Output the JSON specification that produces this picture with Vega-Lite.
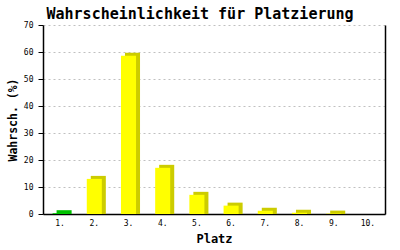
{
  "$schema": "https://vega.github.io/schema/vega-lite/v6.json",
  "width": 342,
  "height": 189,
  "autosize": "none",
  "padding": {"left": 43, "top": 25, "right": 15, "bottom": 36},
  "background": "white",
  "config": {
    "view": {"stroke": null},
    "axis": {
      "domainColor": "black",
      "tickColor": "black",
      "labelFont": "DejaVu Sans Mono",
      "labelFontSize": 8,
      "labelColor": "black",
      "titleFont": "DejaVu Sans Mono",
      "titleFontWeight": "bold",
      "titleColor": "black"
    }
  },
  "title": {
    "text": "Wahrscheinlichkeit für Platzierung",
    "font": "DejaVu Sans Mono",
    "fontSize": 15,
    "fontWeight": "bold",
    "color": "black",
    "anchor": "middle",
    "dx": -14,
    "offset": -1
  },
  "data": {
    "values": [
      {"platz": "1.", "wert": 0.3},
      {"platz": "2.", "wert": 13.0},
      {"platz": "3.", "wert": 58.6},
      {"platz": "4.", "wert": 17.1},
      {"platz": "5.", "wert": 7.1},
      {"platz": "6.", "wert": 3.1},
      {"platz": "7.", "wert": 1.2},
      {"platz": "8.", "wert": 0.5},
      {"platz": "9.", "wert": 0.15},
      {"platz": "10.", "wert": 0}
    ]
  },
  "encoding": {
    "x": {
      "field": "platz",
      "type": "ordinal",
      "sort": null,
      "scale": {"paddingInner": 0.56, "paddingOuter": 0.28},
      "axis": {
        "title": "Platz",
        "titleFontSize": 12,
        "titlePadding": 6,
        "labelAngle": 0,
        "ticks": false,
        "labelPadding": 5,
        "domainWidth": 1.5
      }
    }
  },
  "layer": [
    {
      "transform": [{"filter": "datum.wert > 0"}],
      "mark": {"type": "bar", "xOffset": 4, "yOffset": -3, "y2Offset": 0},
      "encoding": {
        "y": {
          "field": "wert",
          "type": "quantitative",
          "stack": null,
          "scale": {"domain": [0, 70], "nice": false},
          "axis": {
            "orient": "right",
            "labels": false,
            "ticks": false,
            "grid": false,
            "title": null,
            "domain": true,
            "domainWidth": 1.5
          }
        },
        "y2": {"datum": 0},
        "color": {
          "condition": {"test": "datum.platz === '1.'", "value": "#00c000"},
          "value": "#cccc00"
        }
      }
    },
    {
      "mark": {"type": "bar"},
      "encoding": {
        "y": {
          "field": "wert",
          "type": "quantitative",
          "scale": {"domain": [0, 70], "nice": false},
          "axis": {
            "orient": "left",
            "values": [0, 10, 20, 30, 40, 50, 60, 70],
            "title": "Wahrsch. (%)",
            "titleFontSize": 11.5,
            "titlePadding": 5,
            "tickSize": 5,
            "labelPadding": 5,
            "domainWidth": 1.5,
            "grid": true,
            "gridColor": "#c0c0c0",
            "gridDash": [2, 3]
          }
        },
        "color": {
          "condition": {"test": "datum.platz === '1.'", "value": "#00cc00"},
          "value": "#ffff00"
        }
      }
    }
  ],
  "resolve": {"axis": {"y": "independent"}}
}
